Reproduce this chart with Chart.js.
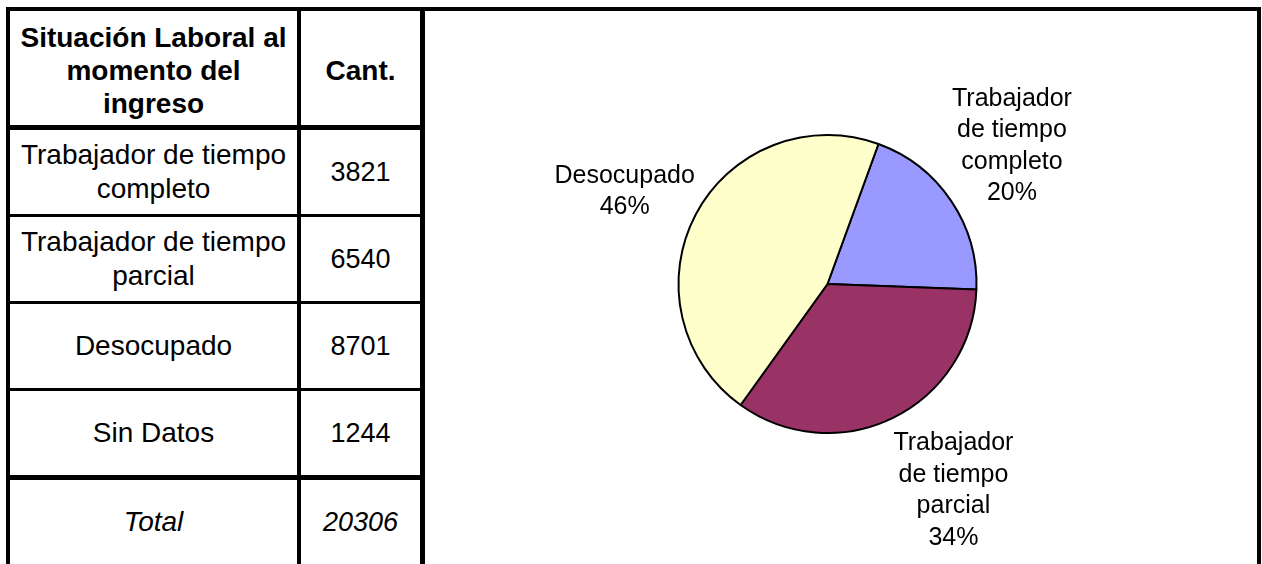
<!DOCTYPE html>
<html>
<head>
<meta charset="UTF-8"/>
<title>Situación Laboral al momento del ingreso</title>
<script src="https://cdn.jsdelivr.net/npm/chart.js@4.4.0/dist/chart.umd.min.js"></script>
<style>
    body { margin: 0; background: #fff; font-family: "Liberation Sans", Arial, sans-serif; color: #000; }
    #frame {
        position: absolute; left: 6px; top: 7px;
        width: 1247px; height: 600px;
        border: 4px solid #000; border-bottom: none;
    }
    #tabla {
        position: absolute; left: 0; top: 0;
        border-collapse: separate; border-spacing: 0;
        table-layout: fixed;
    }
    #tabla td {
        box-sizing: border-box; padding: 0;
        text-align: center; vertical-align: middle;
        font-size: 28px; line-height: 34px;
        border-bottom: 3px solid #000;
    }
    #tabla td.c1 { width: 291px; border-right: 4px solid #000; }
    #tabla td.c2 { width: 124px; border-right: 5px solid #000; font-size: 27px; }
    #tabla tr.head td { font-weight: bold; font-size: 28px; line-height: 33px; height: 119px; border-bottom-width: 5px; padding-top: 4px; }
    #tabla tr.fila td { height: 87px; }
    #tabla tr.ultima td { height: 89px; border-bottom-width: 5px; }
    #tabla tr.total td { font-style: italic; height: 89px; border-bottom-width: 5px; }
    #chartBox { position: absolute; left: 425px; top: 11px; width: 832px; height: 553px; }
</style>
</head>
<body>

<div id="frame">
    <table id="tabla"></table>
</div>
<div id="chartBox">
    <canvas id="torta"></canvas>
</div>

<script>
    // datos de la tabla
    var situaciones = ['Trabajador de tiempo completo', 'Trabajador de tiempo parcial', 'Desocupado', 'Sin Datos'];
    var cantidades = [3821, 6540, 8701, 1244];
    var totalTabla = 20306;

    // datos del grafico (sin "Sin Datos")
    var tortaCategorias = [['Trabajador', 'de tiempo', 'completo'], ['Trabajador', 'de tiempo', 'parcial'], ['Desocupado']];
    var tortaValores = [3821, 6540, 8701];
    var tortaColores = ['#9999FF', '#993366', '#FFFFCC'];

    // armar la tabla
    var html = '<tr class="head"><td class="c1">Situación Laboral al<br>momento del<br>ingreso</td><td class="c2">Cant.</td></tr>';
    for (var i = 0; i < situaciones.length; i++) {
        var cls = (i == situaciones.length - 1) ? 'ultima' : 'fila';
        var txt = situaciones[i].replace('de tiempo ', 'de tiempo<br>');
        html += '<tr class="' + cls + '"><td class="c1">' + txt + '</td><td class="c2">' + cantidades[i] + '</td></tr>';
    }
    html += '<tr class="total"><td class="c1">Total</td><td class="c2">' + totalTabla + '</td></tr>';
    document.getElementById('tabla').innerHTML = html;

    // etiquetas de la torta (nombre + porcentaje), la esquina cercana del bloque toca el borde
    var etiquetasTorta = {
        id: 'etiquetasTorta',
        afterDatasetsDraw: function(chart) {
            var ctx = chart.ctx;
            var meta = chart.getDatasetMeta(0);
            var vals = chart.data.datasets[0].data;
            var suma = vals.reduce(function(a, b) { return a + b; }, 0);
            var lineH = 31.5;
            ctx.save();
            ctx.font = '25px "Liberation Sans", Arial, sans-serif';
            ctx.fillStyle = '#000';
            ctx.textAlign = 'center';
            ctx.textBaseline = 'middle';
            meta.data.forEach(function(arc, i) {
                var p = arc.getProps(['x', 'y', 'startAngle', 'endAngle', 'outerRadius'], true);
                var mid = (p.startAngle + p.endAngle) / 2;
                var lines = chart.data.labels[i].concat([Math.round(vals[i] / suma * 100) + '%']);
                var w = Math.max.apply(null, lines.map(function(l) { return ctx.measureText(l).width; }));
                var h = lines.length * lineH;
                var cx = Math.cos(mid), sy = Math.sin(mid);
                var ax = p.x + (p.outerRadius + 1) * cx;
                var ay = p.y + (p.outerRadius + 1) * sy;
                var bx = ax + Math.sign(cx) * w / 2;
                var by = ay + Math.sign(sy) * h / 2 + 9;
                lines.forEach(function(l, k) {
                    ctx.fillText(l, bx, by - h / 2 + lineH * (k + 0.5));
                });
            });
            ctx.restore();
        }
    };

    var ctx = document.getElementById('torta').getContext('2d');
    var torta = new Chart(ctx, {
        type: 'pie',
        data: {
            labels: tortaCategorias,
            datasets: [{
                data: tortaValores,
                backgroundColor: tortaColores,
                borderColor: '#000',
                borderWidth: 2,
                radius: 149
            }]
        },
        options: {
            responsive: true,
            maintainAspectRatio: false,
            animation: false,
            rotation: 20,
            layout: { padding: { right: 27, bottom: 7 } },
            plugins: {
                legend: { display: false },
                tooltip: { enabled: false }
            }
        },
        plugins: [etiquetasTorta]
    });
</script>
</body>
</html>
